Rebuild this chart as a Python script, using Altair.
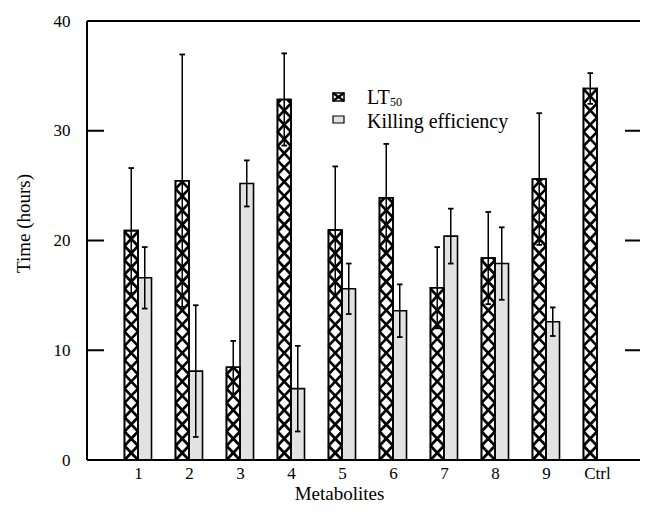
import altair as alt
import pandas as pd

# ---- data ----
groups = ["1", "2", "3", "4", "5", "6", "7", "8", "9", "Ctrl"]
positions = [1, 2, 3, 4, 5, 6, 7, 8, 9, 10]
lt50 = [20.9, 25.45, 8.45, 32.85, 20.95, 23.9, 15.7, 18.4, 25.6, 33.85]
lt50_err = [5.7, 11.5, 2.4, 4.2, 5.8, 4.9, 3.7, 4.2, 6.0, 1.4]
killing = [16.6, 8.1, 25.2, 6.5, 15.6, 13.6, 20.4, 17.9, 12.6, None]
killing_err = [2.8, 6.0, 2.1, 3.9, 2.3, 2.4, 2.5, 3.3, 1.3, None]
series_names = ["LT50", "Killing efficiency"]
y_ticks = [0, 10, 20, 30, 40]

# ---- styling constants ----
W, H = 553, 439
XMAX = W / 51.0  # 51 px per group
BW = 0.265      # bar width in x units
HATCH = 1.3     # hatch cell height in y units
CAP = 0.055     # half width of error caps
FONT = "Liberation Serif"
KE_FILL = "#e2e2e2"

rows = []
for g, p, v, e in zip(groups, positions, lt50, lt50_err):
    rows.append(dict(group=g, pos=p, series=series_names[0], value=v, err=e, side=-1))
for g, p, v, e in zip(groups, positions, killing, killing_err):
    if v is not None:
        rows.append(dict(group=g, pos=p, series=series_names[1], value=v, err=e, side=0))
df = pd.DataFrame(rows)
df["x0"] = df["pos"] + df["side"] * BW
df["x1"] = df["x0"] + BW
df["xc"] = (df["x0"] + df["x1"]) / 2
df["lo"] = df["value"] - df["err"]
df["hi"] = df["value"] + df["err"]
df["zero"] = 0.0
df["cl"] = df["xc"] - CAP
df["cr"] = df["xc"] + CAP

xscale = alt.Scale(domain=[0, XMAX], nice=False, zero=False)
yscale = alt.Scale(domain=[0, 40], nice=False)

label_arr = "[" + ",".join("'%s'" % g for g in groups) + "]"
xaxis = alt.Axis(values=positions, labelExpr=label_arr + "[datum.value - 1]",
                 title="Metabolites", tickSize=0, domain=False, grid=False,
                 labelPadding=5, labelFontSize=17, titleFontSize=19,
                 titleX=252, titleY=39, titleBaseline="alphabetic")
yaxis = alt.Axis(values=y_ticks, title="Time (hours)", tickSize=0, domain=False, grid=False,
                 labelPadding=17, labelFontSize=17, titleFontSize=19,
                 titleAngle=270, titleBaseline="middle", titleAlign="center",
                 titleX=-64, titleY=202)

base = alt.Chart(df)
lt = base.transform_filter(alt.datum.series == series_names[0])
ke = base.transform_filter(alt.datum.series == series_names[1])

bars_lt = lt.mark_rect(fill="white", stroke="black", strokeWidth=1.6).encode(
    x=alt.X("x0:Q", scale=xscale, axis=xaxis), x2="x1:Q",
    y=alt.Y("value:Q", scale=yscale, axis=yaxis), y2="zero:Q")
bars_ke = ke.mark_rect(fill=KE_FILL, stroke="black", strokeWidth=1.6).encode(
    x=alt.X("x0:Q", scale=xscale), x2="x1:Q",
    y=alt.Y("value:Q", scale=yscale), y2="zero:Q")

hatch = lt.transform_calculate(
    ys="sequence(0, datum.value, %f)" % HATCH
).transform_flatten(["ys"]).transform_calculate(
    ye="min(datum.ys + %f, datum.value)" % HATCH
).transform_calculate(
    f="(datum.ye - datum.ys) / %f" % HATCH
).transform_calculate(
    xa="datum.x0 + datum.f * (datum.x1 - datum.x0)",
    xb="datum.x1 - datum.f * (datum.x1 - datum.x0)")
hatch_a = hatch.mark_rule(color="black", strokeWidth=2.7).encode(
    x=alt.X("x0:Q", scale=xscale), x2="xa:Q",
    y=alt.Y("ys:Q", scale=yscale), y2="ye:Q")
hatch_b = hatch.mark_rule(color="black", strokeWidth=2.7).encode(
    x=alt.X("x1:Q", scale=xscale), x2="xb:Q",
    y=alt.Y("ys:Q", scale=yscale), y2="ye:Q")
outline_lt = lt.mark_rect(fillOpacity=0, stroke="black", strokeWidth=1.6).encode(
    x=alt.X("x0:Q", scale=xscale), x2="x1:Q",
    y=alt.Y("value:Q", scale=yscale), y2="zero:Q")

err = base.mark_rule(color="black", strokeWidth=1.5).encode(
    x=alt.X("xc:Q", scale=xscale), y=alt.Y("lo:Q", scale=yscale), y2="hi:Q")
cap_hi = base.mark_rule(color="black", strokeWidth=1.8).encode(
    x=alt.X("cl:Q", scale=xscale), x2="cr:Q", y=alt.Y("hi:Q", scale=yscale))
cap_lo = base.mark_rule(color="black", strokeWidth=1.8).encode(
    x=alt.X("cl:Q", scale=xscale), x2="cr:Q", y=alt.Y("lo:Q", scale=yscale))

tick_df = pd.DataFrame({"t": y_ticks[1:-1]})
ticks_l = alt.Chart(tick_df).mark_rule(color="black", strokeWidth=2).encode(
    y=alt.Y("t:Q", scale=yscale), x=alt.value(0), x2=alt.value(17))
ticks_r = alt.Chart(tick_df).mark_rule(color="black", strokeWidth=2).encode(
    y=alt.Y("t:Q", scale=yscale), x=alt.value(W - 15), x2=alt.value(W))

# frame: left, bottom and top edges (right edge lies outside the picture)
frame_df = pd.DataFrame({"edge": ["frame"]})
fr = alt.Chart(frame_df)
edge_left = fr.mark_rule(color="black", strokeWidth=2).encode(
    x=alt.value(0), y=alt.value(0), y2=alt.value(H))
edge_bottom = fr.mark_rule(color="black", strokeWidth=2).encode(
    x=alt.value(0), x2=alt.value(W), y=alt.value(H))
edge_top = fr.mark_rule(color="black", strokeWidth=2).encode(
    x=alt.value(0), x2=alt.value(W), y=alt.value(0))

# ---- legend (manual, to get the subscript) ----
leg = pd.DataFrame({"label": series_names})
leg["main"] = [series_names[0][:2], series_names[1]]
leg["sub"] = [series_names[0][2:], ""]
l0 = alt.Chart(leg.iloc[[0]])
l1 = alt.Chart(leg.iloc[[1]])
SX0, SX1 = 246, 257
sym0 = l0.mark_rect(fill="white", stroke="black", strokeWidth=1.6).encode(
    x=alt.value(SX0), x2=alt.value(SX1), y=alt.value(72), y2=alt.value(80))
sym0a = l0.mark_rule(color="black", strokeWidth=2.2).encode(
    x=alt.value(SX0), x2=alt.value(SX1), y=alt.value(72), y2=alt.value(80))
sym0b = l0.mark_rule(color="black", strokeWidth=2.2).encode(
    x=alt.value(SX1), x2=alt.value(SX0), y=alt.value(72), y2=alt.value(80))
sym1 = l1.mark_rect(fill=KE_FILL, stroke="black", strokeWidth=1.2).encode(
    x=alt.value(SX0), x2=alt.value(SX1), y=alt.value(95), y2=alt.value(102))
txt0 = l0.mark_text(align="left", baseline="alphabetic", font=FONT, fontSize=20, color="black").encode(
    x=alt.value(280), y=alt.value(83), text="main:N")
txt0s = l0.mark_text(align="left", baseline="alphabetic", font=FONT, fontSize=12, color="black").encode(
    x=alt.value(303), y=alt.value(85), text="sub:N")
txt1 = l1.mark_text(align="left", baseline="alphabetic", font=FONT, fontSize=20, color="black").encode(
    x=alt.value(280), y=alt.value(107), text="main:N")

chart = alt.layer(
    bars_lt, bars_ke, hatch_a, hatch_b, outline_lt, err, cap_hi, cap_lo,
    ticks_l, ticks_r, edge_left, edge_bottom, edge_top,
    sym0, sym0a, sym0b, sym1, txt0, txt0s, txt1
).properties(
    width=W, height=H,
    padding={"left": 79, "top": 13, "right": 0, "bottom": 44},
    autosize=alt.AutoSizeParams(type="none"),
    background="white",
).configure_view(
    stroke=None
).configure_axis(
    labelFont=FONT, titleFont=FONT, labelColor="black", titleColor="black",
    titleFontWeight="normal"
)

chart.save("out.html", embed_options={"renderer": "svg", "actions": False})
